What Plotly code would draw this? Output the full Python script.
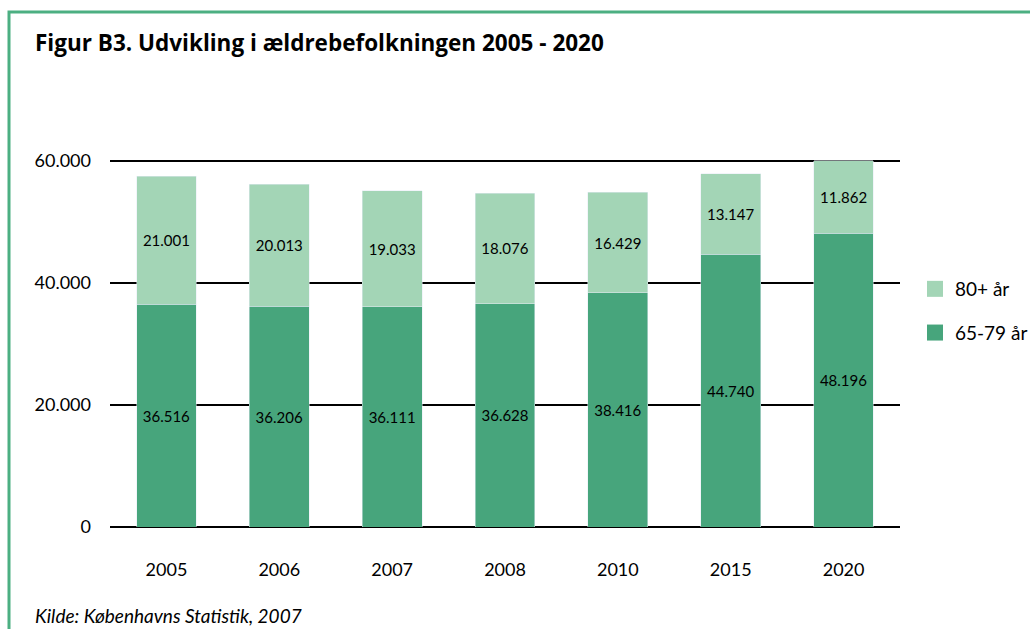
import plotly.graph_objects as go

years = ["2005", "2006", "2007", "2008", "2010", "2015", "2020"]
age_65_79 = [36516, 36206, 36111, 36628, 38416, 44740, 48196]
age_80_plus = [21001, 20013, 19033, 18076, 16429, 13147, 11862]
y_ticks = [0, 20000, 40000, 60000]

W, H = 1030, 629
FONT = "Lato, 'Open Sans', sans-serif"
dark = "#47A57C"
light = "#A3D5B6"
border = "#4CAF82"

# plot area in pixels
px_l, px_r = 110, 900
px_zero, px_60 = 527, 161
y_max = 60600
px_top = px_zero - (px_zero - px_60) * y_max / 60000

series = [("65-79 år", age_65_79, dark), ("80+ år", age_80_plus, light)]

fig = go.Figure()
for name, vals, col in series:
    fig.add_trace(go.Bar(
        x=years, y=vals, name=name, marker_color=col, showlegend=False,
        texttemplate="%{y:,.0f}", textposition="inside", insidetextanchor="middle",
        textfont=dict(color="black", size=15, family=FONT), width=0.53,
    ))
# legend entries with larger square swatches (top entry first)
for name, vals, col in reversed(series):
    fig.add_trace(go.Scatter(
        x=[None], y=[None], mode="markers", name=name, legendgroup=name,
        marker=dict(symbol="square", size=16, color=col),
    ))

fig.update_layout(
    width=W, height=H, autosize=False,
    margin=dict(l=0, r=0, t=0, b=0, pad=0, autoexpand=False),
    paper_bgcolor="white", plot_bgcolor="white",
    barmode="stack",
    separators=",.",
    font=dict(family=FONT, size=17, color="black"),
    showlegend=True,
    legend=dict(xref="container", yref="container",
                x=915 / W, y=1 - 270 / H, xanchor="left", yanchor="top",
                traceorder="grouped", font=dict(size=19, family=FONT),
                itemwidth=30, tracegroupgap=16, bgcolor="rgba(0,0,0,0)"),
    xaxis=dict(domain=[px_l / W, px_r / W], showgrid=False, showline=False,
               automargin=False,
               ticks="", tickfont=dict(size=18), ticklabelstandoff=30),
    yaxis=dict(domain=[1 - px_zero / H, 1 - px_top / H], range=[0, y_max],
               automargin=False,
               tickvals=y_ticks, tickformat=",.0f", showgrid=True,
               gridcolor="black", gridwidth=2, zeroline=True,
               zerolinecolor="black", zerolinewidth=2, ticks="",
               tickfont=dict(size=18), ticklabelstandoff=18),
    shapes=[dict(type="rect", xref="paper", yref="paper",
                 x0=9 / W, x1=1.05, y0=-0.05, y1=1 - 12 / H,
                 line=dict(color=border, width=3))],
    annotations=[
        dict(text="<b>Figur B3. Udvikling i ældrebefolkningen 2005 - 2020</b>",
             xref="paper", yref="paper", x=33 / W, y=1 - 42 / H,
             xanchor="left", yanchor="middle", showarrow=False,
             font=dict(size=22.5, family="'Open Sans', Lato, sans-serif", color="black")),
        dict(text="<i>Kilde: Københavns Statistik, 2007</i>",
             xref="paper", yref="paper", x=33 / W, y=1 - 615 / H,
             xanchor="left", yanchor="middle", showarrow=False,
             font=dict(size=19, family=FONT, color="black")),
    ],
)

fig.write_html("out.html",
               config={"displayModeBar": False},
               post_script="document.body.style.margin='0';document.body.style.overflow='hidden';")
